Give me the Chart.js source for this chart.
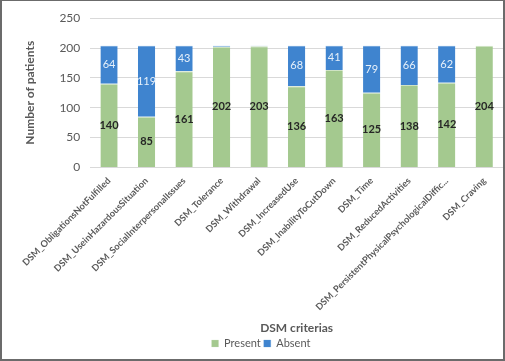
<!DOCTYPE html>
<html>
<head>
<meta charset="utf-8">
<script src="https://cdn.jsdelivr.net/npm/chart.js@4/dist/chart.umd.min.js"></script>
<style>
  body { margin: 0; background: #fff; }
  #wrap {
    width: 505px; height: 361px; box-sizing: border-box;
    border: 2px solid #6b6b6b; border-top-width: 1px; background: #fff;
  }
</style>
</head>
<body>
<div id="wrap"><canvas id="chart" width="501" height="358"></canvas></div>
<script>
var categories = [
  'DSM_ObligationsNotFulfilled',
  'DSM_UseinHazardousSituation',
  'DSM_SocialInterpersonalIssues',
  'DSM_Tolerance',
  'DSM_Withdrawal',
  'DSM_IncreasedUse',
  'DSM_InabilityToCutDown',
  'DSM_Time',
  'DSM_ReducedActivities',
  'DSM_PersistentPhysicalPsychologicalDiffic...',
  'DSM_Craving'
];
var present = [140, 85, 161, 202, 203, 136, 163, 125, 138, 142, 204];
var absent = [64, 119, 43, 2, 1, 68, 41, 79, 66, 62, 0];
var yTicks = [0, 50, 100, 150, 200, 250];

// draws the value in the middle of each stacked segment
var barLabels = {
  id: 'barLabels',
  afterDatasetsDraw: function(chart) {
    var ctx = chart.ctx;
    chart.data.datasets.forEach(function(ds, i) {
      var meta = chart.getDatasetMeta(i);
      meta.data.forEach(function(bar, j) {
        var v = ds.data[j];
        if (v < 10) return;
        ctx.save();
        ctx.textAlign = 'center';
        ctx.textBaseline = 'middle';
        if (i === 0) {
          ctx.font = 'bold 11px Lato';
          ctx.fillStyle = '#262626';
        } else {
          ctx.font = '11px Lato';
          ctx.fillStyle = '#e6f0fa';
        }
        ctx.fillText(v, bar.x, (bar.y + bar.base) / 2);
        ctx.restore();
      });
    });
  }
};

new Chart(document.getElementById('chart'), {
  type: 'bar',
  data: {
    labels: categories,
    datasets: [{
      label: 'Present',
      data: present,
      backgroundColor: '#a4c98f',
      borderColor: '#cfe3c4',
      borderWidth: { top: 1 },
      categoryPercentage: 1,
      barPercentage: 0.46
    }, {
      label: 'Absent',
      data: absent,
      backgroundColor: '#3f84cf',
      borderColor: '#5d98d8',
      borderWidth: { top: 1 },
      categoryPercentage: 1,
      barPercentage: 0.46
    }]
  },
  options: {
    responsive: false,
    animation: false,
    layout: { padding: { top: 5, right: 0, left: 17, bottom: 0 } },
    plugins: {
      legend: {
        position: 'bottom',
        labels: {
          boxWidth: 7, boxHeight: 7, padding: 3,
          color: '#595959', font: { family: 'Lato', size: 11 }
        }
      },
      tooltip: { enabled: false }
    },
    scales: {
      x: {
        stacked: true,
        grid: { display: false },
        border: { color: '#d9d9d9' },
        ticks: {
          minRotation: 45, maxRotation: 45, autoSkip: false, padding: 0,
          color: '#595959', font: { family: 'Lato', size: 9.2, weight: 'bold' }
        },
        title: {
          display: true, text: 'DSM criterias', color: '#595959',
          font: { family: 'Lato', size: 12, weight: 'bold' }, padding: { top: 8, bottom: 0 }
        }
      },
      y: {
        stacked: true,
        min: 0, max: 250,
        afterBuildTicks: function(axis) {
          axis.ticks = yTicks.map(function(v) { return { value: v }; });
        },
        grid: { color: '#d9d9d9', drawTicks: false },
        border: { display: false },
        ticks: {
          padding: 10, color: '#595959', font: { family: 'Lato', size: 12 }
        },
        title: {
          display: true, text: 'Number of patients', color: '#595959',
          font: { family: 'Lato', size: 12, weight: 'bold' }, padding: { bottom: 12 }
        }
      }
    }
  },
  plugins: [barLabels]
});
</script>
</body>
</html>
